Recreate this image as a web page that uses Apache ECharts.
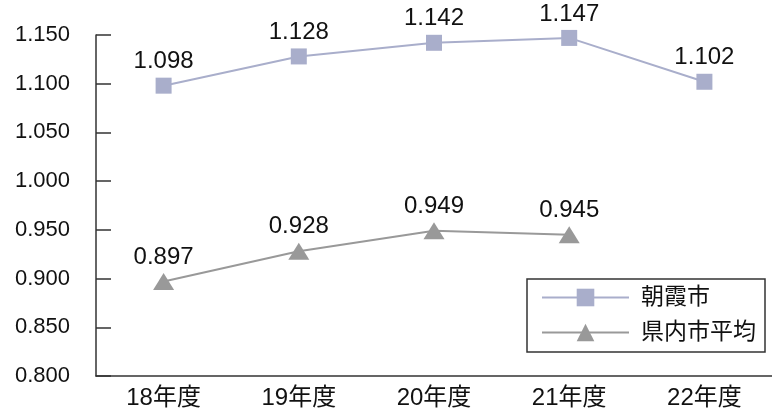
<!DOCTYPE html>
<html>
<head>
<meta charset="utf-8">
<script src="https://cdn.jsdelivr.net/npm/echarts@6/dist/echarts.min.js"></script>
<style>
  html, body { margin: 0; padding: 0; background: #fff; }
  #chart { width: 772px; height: 417px; }
</style>
</head>
<body>
<div id="chart"></div>
<script>
// Fiscal years on the category axis
const years = ['18年度', '19年度', '20年度', '21年度', '22年度'];
// 朝霞市 values
const asakaValues = [1.098, 1.128, 1.142, 1.147, 1.102];
// 県内市平均 values (no figure yet for 22年度)
const prefAverageValues = [0.897, 0.928, 0.949, 0.945, null];
// Value axis range
const yMin = 0.8;
const yMax = 1.15;
const yStep = 0.05;

const FONT = '"Liberation Sans", Arial, "Noto Sans CJK JP", sans-serif';
const chart = echarts.init(document.getElementById('chart'));

chart.setOption({
  animation: false,
  backgroundColor: '#ffffff',
  grid: { left: 96, top: 35, bottom: 41, right: -9 },
  legend: {
    orient: 'vertical',
    left: 527,
    top: 279,
    padding: [7, 9, 8, 14],
    borderColor: '#333333',
    borderWidth: 1.5,
    itemWidth: 87,
    itemHeight: 22,
    itemGap: 12,
    textStyle: {
      fontFamily: FONT,
      fontSize: 23,
      color: '#111',
      lineHeight: 22,
      padding: [0, 0, 0, 7]
    },
    data: ['朝霞市', '県内市平均']
  },
  xAxis: {
    type: 'category',
    data: years,
    boundaryGap: true,
    axisLine: { lineStyle: { color: '#333', width: 1.5 } },
    axisTick: { inside: true, length: 9, lineStyle: { color: '#333', width: 1.5 } },
    axisLabel: { margin: 10, fontFamily: FONT, fontSize: 24, color: '#111' }
  },
  yAxis: {
    type: 'value',
    min: yMin,
    max: yMax,
    interval: yStep,
    splitLine: { show: false },
    axisLine: { show: true, lineStyle: { color: '#333', width: 1.5 } },
    axisTick: { show: true, inside: true, length: 15, lineStyle: { color: '#333', width: 1.5 } },
    axisLabel: {
      margin: 26,
      fontFamily: FONT,
      fontSize: 22,
      color: '#111',
      formatter: v => v.toFixed(3)
    }
  },
  series: [
    {
      name: '朝霞市',
      type: 'line',
      data: asakaValues,
      symbol: 'rect',
      symbolSize: 16,
      color: '#a9aecb',
      lineStyle: { color: '#a9aecb', width: 2 },
      itemStyle: { color: '#a9aecb' },
      label: {
        show: true,
        position: 'top',
        distance: 4,
        fontFamily: FONT,
        fontSize: 24,
        color: '#111',
        formatter: p => p.value.toFixed(3)
      }
    },
    {
      name: '県内市平均',
      type: 'line',
      data: prefAverageValues,
      symbol: 'triangle',
      symbolSize: [21, 17],
      color: '#999999',
      lineStyle: { color: '#999999', width: 2 },
      itemStyle: { color: '#999999' },
      label: {
        show: true,
        position: 'top',
        distance: 4,
        fontFamily: FONT,
        fontSize: 24,
        color: '#111',
        formatter: p => p.value == null ? '' : p.value.toFixed(3)
      }
    }
  ]
});
</script>
</body>
</html>
